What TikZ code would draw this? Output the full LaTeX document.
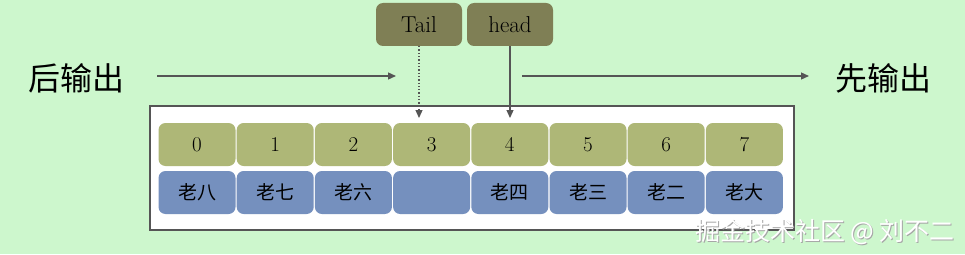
\documentclass[tikz,border=0pt]{standalone}
\usepackage{fontspec}
\newfontfamily\cjk{Noto Sans CJK SC}
\usetikzlibrary{arrows.meta}
\definecolor{bg}{HTML}{CDF7CD}
\definecolor{olivetop}{HTML}{AEB777}
\definecolor{olivedark}{HTML}{7F7F55}
\definecolor{bluecell}{HTML}{7590BE}
\definecolor{linegray}{HTML}{555555}
\tikzset{
  x=1pt,y=-1pt,
  numcell/.style={fill=olivetop, rounded corners=7pt, minimum width=77pt, minimum height=43pt, inner sep=0pt, font=\fontsize{21}{24}\selectfont},
  namecell/.style={fill=bluecell, rounded corners=7pt, minimum width=77pt, minimum height=43pt, inner sep=0pt, font=\cjk\fontsize{19}{22}\selectfont},
  ptrbox/.style={fill=olivedark, rounded corners=7pt, minimum width=86pt, minimum height=43pt, inner sep=0pt, font=\fontsize{23}{26}\selectfont},
  bigtext/.style={font=\cjk\fontsize{32}{36}\selectfont, inner sep=0pt},
  conn/.style={draw=linegray, line width=1.3pt, -{Triangle[length=8pt,width=7pt]}},
}
\begin{document}
\begin{tikzpicture}
\fill[bg] (0,0) rectangle (965,254);
\useasboundingbox (0,0) rectangle (965,254);
\node[draw=linegray, line width=2pt, fill=white, minimum width=644pt, minimum height=124pt, inner sep=0pt] (frame) at (472,168) {};
\foreach \i/\lab in {0/老八,1/老七,2/老六,3/,4/老四,5/老三,6/老二,7/老大}{
  \node[numcell] (n\i) at (197+78.2*\i,144.5) {\i};
  \node[namecell] (m\i) at (197+78.2*\i,192.5) {\lab};
}
\node[ptrbox] (tail) at (419,24.5) {Tail};
\node[ptrbox] (head) at (510,24.5) {head};
\coordinate (tailend) at (419,118);
\coordinate (headend) at (510,118);
\draw[conn, dotted] (tail.south) -- (tailend);
\draw[conn] (head.south) -- (headend);
\node[bigtext] (later) at (76,78) {后输出};
\node[bigtext] (first) at (883,78) {先输出};
\coordinate (la) at (157,76);
\coordinate (lb) at (396,76);
\coordinate (ra) at (522,76);
\coordinate (rb) at (809,76);
\draw[conn] (la) -- (lb);
\draw[conn] (ra) -- (rb);
\node[font=\cjk\fontsize{25}{28}\selectfont, text=gray!70, inner sep=0pt] at (826,233) {掘金技术社区 @ 刘不二};
\node[font=\cjk\fontsize{25}{28}\selectfont, text=white, inner sep=0pt] (wm) at (825,232) {掘金技术社区 @ 刘不二};
\end{tikzpicture}
\end{document}
